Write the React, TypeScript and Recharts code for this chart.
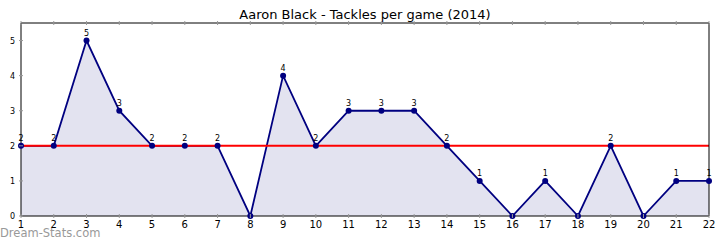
import React from "react";
import {
  ComposedChart,
  Area,
  XAxis,
  YAxis,
  ReferenceLine,
  LabelList,
} from "recharts";

const games = [1, 2, 3, 4, 5, 6, 7, 8, 9, 10, 11, 12, 13, 14, 15, 16, 17, 18, 19, 20, 21, 22];
const tackles = [2, 2, 5, 3, 2, 2, 2, 0, 4, 2, 3, 3, 3, 2, 1, 0, 1, 0, 2, 0, 1, 1];
const yTicks = [0, 1, 2, 3, 4, 5];
const average = 2.0;

const data = games.map((g, i) => ({ game: g, tackles: tackles[i] }));

const FONT = "DejaVu Sans, sans-serif";

const BottomTick = (props: any) => {
  const { x, y, payload } = props;
  return (
    <g>
      <line x1={x} x2={x} y1={y} y2={y - 4} stroke="#999" />
      <text x={x} y={y + 10} textAnchor="middle" fontSize={10} fontFamily={FONT} fill="#000">
        {payload.value}
      </text>
    </g>
  );
};

const TopTick = (props: any) => {
  const { x, y } = props;
  return <line x1={x} x2={x} y1={y} y2={y + 4} stroke="#999" />;
};

const LeftTick = (props: any) => {
  const { x, y, payload } = props;
  return (
    <g>
      <line x1={x} x2={x + 4} y1={y} y2={y} stroke="#999" />
      <text x={x - 4} y={y + 3} textAnchor="end" fontSize={8} fontFamily={FONT} fill="#000">
        {payload.value}
      </text>
    </g>
  );
};

const RightTick = (props: any) => {
  const { x, y } = props;
  return <line x1={x} x2={x - 4} y1={y} y2={y} stroke="#999" />;
};

const PointLabel = (props: any) => {
  const { x, y, value } = props;
  if (!value) return null;
  return (
    <text x={x} y={y - 5} textAnchor="middle" fontSize={8} fontFamily={FONT} fill="#000">
      {value}
    </text>
  );
};

export default function App() {
  return (
    <div style={{ position: "absolute", left: 0, top: 0, width: 720, height: 240, background: "#fff" }}>
      <ComposedChart
        width={720}
        height={240}
        data={data}
        margin={{ top: 0, right: 0, bottom: 0, left: 0 }}
      >
        <XAxis
          dataKey="game"
          type="number"
          domain={[1, 22]}
          ticks={games}
          interval={0}
          xAxisId="bottom"
          height={24}
          tickSize={0}
          tickLine={false}
          stroke="#000"
          tick={<BottomTick />}
        />
        <XAxis
          dataKey="game"
          type="number"
          domain={[1, 22]}
          ticks={games}
          interval={0}
          xAxisId="top"
          orientation="top"
          height={23}
          tickSize={0}
          tickLine={false}
          stroke="#000"
          tick={<TopTick />}
        />
        <YAxis
          yAxisId="left"
          type="number"
          domain={[0, 5.5]}
          ticks={yTicks}
          width={21}
          tickSize={0}
          tickLine={false}
          stroke="#000"
          tick={<LeftTick />}
        />
        <YAxis
          yAxisId="right"
          orientation="right"
          type="number"
          domain={[0, 5.5]}
          ticks={yTicks}
          width={11}
          tickSize={0}
          tickLine={false}
          stroke="#000"
          tick={<RightTick />}
        />
        <Area
          xAxisId="bottom"
          yAxisId="left"
          type="linear"
          dataKey="tackles"
          stroke="#000080"
          strokeWidth={1.8}
          fill="#e3e3f0"
          fillOpacity={1}
          dot={{ r: 3, fill: "#000080", stroke: "#000080", strokeWidth: 0 }}
          isAnimationActive={false}
        >
          <LabelList dataKey="tackles" content={<PointLabel />} />
        </Area>
        <ReferenceLine
          xAxisId="bottom"
          yAxisId="left"
          y={average}
          stroke="#ff0000"
          strokeWidth={2}
        />
        <text x={365} y={19} textAnchor="middle" fontSize={13} fontFamily={FONT} fill="#000">
          Aaron Black - Tackles per game (2014)
        </text>
        <text x={39} y={207} fontSize={10} fontFamily={FONT} fill="#ff0000">
          AVG 2.0
        </text>
        <text x={0} y={237} fontSize={11.5} fontFamily={FONT} fill="#999999">
          Dream-Stats.com
        </text>
      </ComposedChart>
    </div>
  );
}
